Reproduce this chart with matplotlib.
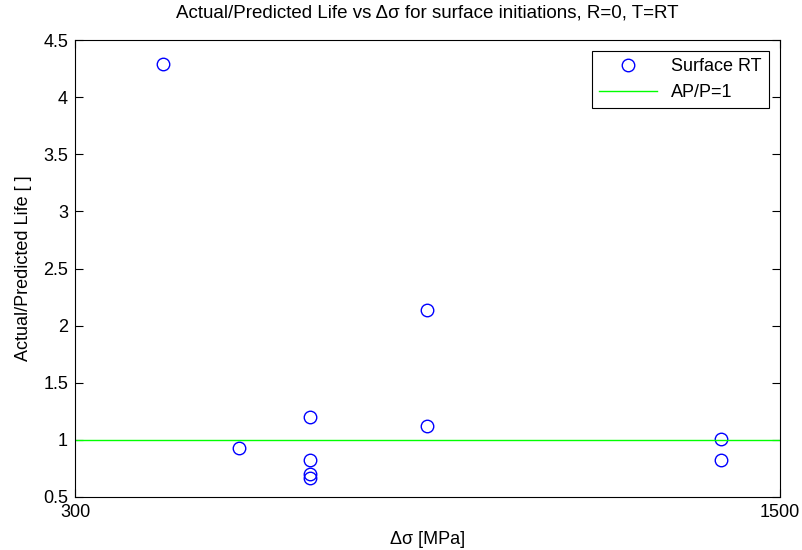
import numpy as np
import matplotlib.pyplot as plt

plt.rcParams['font.family'] = ['Liberation Sans', 'DejaVu Sans']

# stress range [MPa] and actual/predicted life ratio, surface initiations
dsigma = [450, 580, 700, 700, 700, 700, 900, 900, 1400, 1400]
ratio = [4.29, 0.93, 1.20, 0.82, 0.70, 0.67, 2.14, 1.12, 1.01, 0.82]
xlim = [300, 1500]
ylim = [0.5, 4.5]

fig = plt.figure(figsize=(8.03, 5.5), dpi=100)
ax = fig.add_axes([0.0934, 0.0964, 0.8776, 0.8306])

ax.plot(dsigma, ratio, 'o', mfc='none', mec='b', ms=9, mew=1.0, label='Surface RT')
ax.plot(xlim, [1, 1], color=(0, 1, 0), lw=1.0, label='AP/P=1')

ax.set_xlim(xlim)
ax.set_ylim(ylim)
ax.set_xticks(xlim)
ax.set_yticks(np.arange(0.5, 4.51, 0.5))
ax.set_yticklabels(['0.5', '1', '1.5', '2', '2.5', '3', '3.5', '4', '4.5'])
ax.tick_params(direction='in', top=True, right=True, labelsize=13, length=6, pad=5)

ax.set_xlabel('Δσ [MPa]', fontsize=13, labelpad=7)
ax.set_ylabel('Actual/Predicted Life [ ]', fontsize=13, labelpad=8)
ax.set_title('Actual/Predicted Life vs Δσ for surface initiations, R=0, T=RT',
             fontsize=13.5, pad=16)

leg = ax.legend(loc='upper right', fontsize=13, fancybox=False, framealpha=1,
                edgecolor='k', borderaxespad=0.6, handlelength=3.2)
leg.get_frame().set_linewidth(0.8)

plt.savefig('out.png')
